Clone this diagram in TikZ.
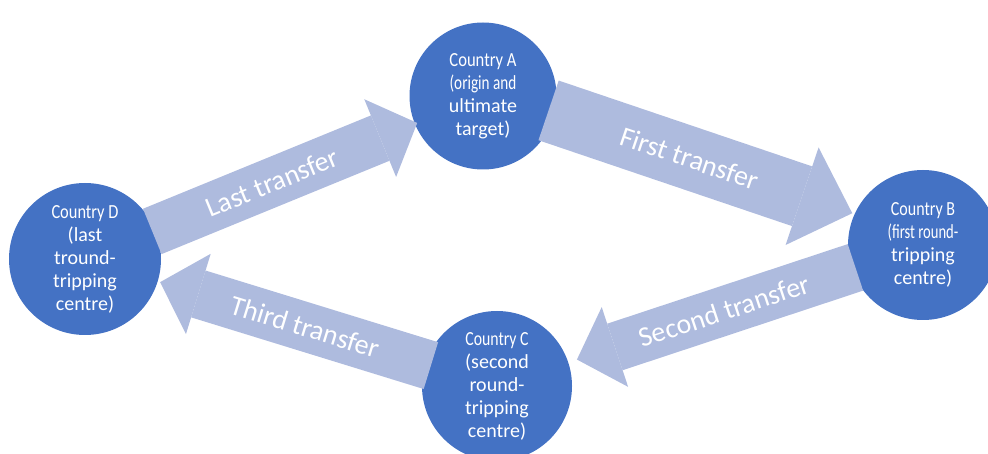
\documentclass[tikz,border=0pt]{standalone}
\usepackage{fontspec}
\setmainfont{Carlito}
\usepackage{graphicx}
\usetikzlibrary{arrows.meta}
\definecolor{countryblue}{RGB}{68,114,196}
\definecolor{transferblue}{RGB}{174,187,222}
\newcommand{\squeeze}[2][0.8]{\scalebox{#1}[1]{#2}}

\begin{document}
\begin{tikzpicture}[x=1pt, y=-1pt,
  country/.style={circle, fill=countryblue, text=white, inner sep=0pt, align=center,
    font=\fontsize{20}{23}\selectfont},
  transfer/.style={draw=transferblue, line width=49pt,
    -{Triangle[width=84pt, length=40pt, line width=0pt 0]}},
  bigtransfer/.style={draw=transferblue, line width=63pt,
    -{Triangle[width=103pt, length=53pt, line width=0pt 0]}},
  transfertext/.style={sloped, pos=0.45, text=white, font=\fontsize{28}{30}\selectfont}]
  \useasboundingbox (0,0) rectangle (988,454);
  % the four countries
  \node[country, minimum size=147pt] (A) at (483,96)
    {\squeeze[0.83]{Country A}\\ \squeeze[0.76]{(origin and}\\ ultimate\\ target)};
  \node[country, minimum size=150pt] (B) at (923,245)
    {\squeeze{Country B}\\ \squeeze[0.73]{(first round-}\\ tripping\\ centre)};
  \node[country, minimum size=150pt] (C) at (497,386)
    {\squeeze[0.79]{Country C}\\ (second\\ round-\\ tripping\\ centre)};
  \node[country, minimum size=152pt] (D) at (85,259)
    {\squeeze[0.82]{Country D}\\ (last\\ tround-\\ tripping\\ centre)};
  % transfers
  \draw[bigtransfer, shorten <=-7pt, shorten >=2pt, transform canvas={shift={(2.4pt,7pt)}}]
    (A) -- node[transfertext] {First transfer} (B);
  \draw[transfer, shorten <=-4pt, shorten >=9pt]
    (B) -- node[transfertext] {Second transfer} (C);
  \draw[transfer, shorten <=-6pt, shorten >=2.4pt]
    (C) -- node[transfertext] {Third transfer} (D);
  \draw[transfer, shorten <=-3.5pt, shorten >=-2.6pt]
    (D) -- node[transfertext] {Last transfer} (A);
\end{tikzpicture}
\end{document}
